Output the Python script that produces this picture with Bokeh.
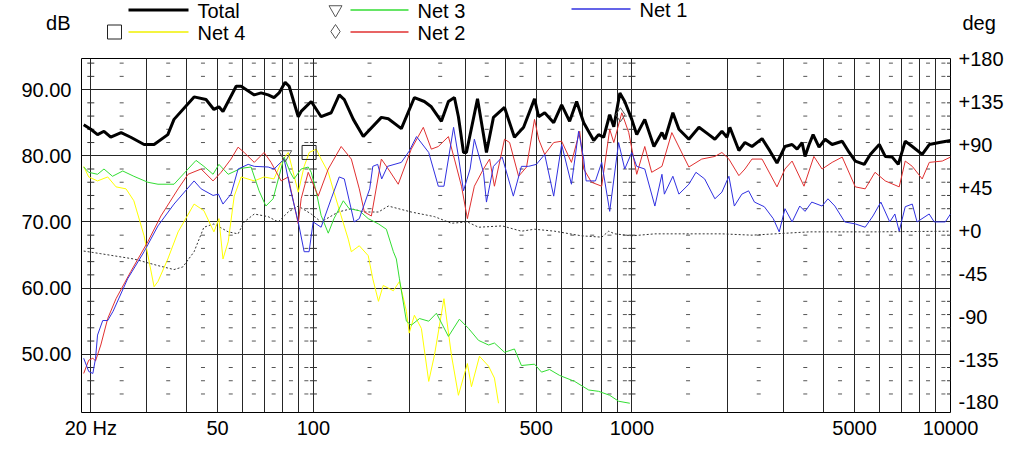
from bokeh.plotting import figure
from bokeh.layouts import column
from bokeh.models import Range1d, LinearAxis, FixedTicker
from bokeh.core.properties import value
from bokeh.embed import file_html
from bokeh.resources import INLINE

FONT = "Liberation Sans"

# Total (black, thick)
total_hz = [19.0, 20.0, 21.0, 22.0, 23.1, 24.9, 26.7, 29.4, 31.6, 34.9,
            36.5, 42.2, 46.0, 48.7, 50.5, 52.0, 57.2, 59.3, 65.2, 68.5,
            72.1, 75.2, 78.0, 81.5, 83.9, 89.6, 91.5, 98.4, 105.7, 113.7,
            120.5, 125.0, 133.4, 143.4, 148.6, 163.4, 171.8, 188.8, 207.5, 222.9,
            234.5, 252.2, 265.3, 277.1, 285.2, 295.9, 302.2, 327.4, 349.3, 367.4,
            398.0, 427.6, 456.9, 494.4, 509.4, 532.2, 567.9, 601.5, 637.2, 670.3,
            705.5, 758.5, 785.6, 814.8, 851.4, 877.0, 916.2, 949.0, 998.6, 1035,
            1097, 1172, 1242, 1269, 1344, 1404, 1509, 1623, 1743, 1821,
            1916, 1987, 2029, 2166, 2263, 2381, 2561, 2713, 2853, 3022,
            3182, 3299, 3420, 3494, 3598, 3704, 3866, 4040, 4250, 4571,
            4808, 5025, 5360, 5600, 5976, 6240, 6562, 6857, 7210, 7586,
            8150, 8578, 9226, 10000]
total_db = [84.7, 84.0, 83.2, 83.7, 82.8, 83.5, 82.8, 81.7, 81.7, 83.2,
            85.5, 88.9, 88.5, 87.0, 87.4, 86.7, 90.5, 90.5, 89.2, 89.5,
            89.2, 88.8, 89.5, 91.1, 90.5, 85.9, 86.7, 88.2, 85.9, 86.5,
            89.2, 88.5, 85.5, 82.9, 83.7, 85.8, 85.6, 84.1, 88.8, 88.2,
            87.4, 85.2, 88.2, 88.8, 85.9, 80.5, 80.5, 88.6, 80.5, 85.8,
            87.3, 82.8, 84.3, 88.6, 85.9, 86.5, 85.0, 87.7, 85.2, 88.2,
            85.0, 82.3, 83.2, 82.8, 86.2, 84.4, 89.5, 88.2, 85.5, 83.2,
            85.5, 81.4, 83.5, 82.5, 86.5, 84.0, 82.5, 84.3, 83.2, 82.5,
            83.7, 82.8, 84.3, 80.8, 82.0, 81.4, 82.6, 80.7, 78.9, 81.4,
            81.7, 81.0, 82.0, 79.9, 81.7, 83.2, 81.3, 82.5, 81.7, 82.2,
            80.5, 79.2, 78.7, 80.2, 81.7, 79.9, 79.8, 78.7, 82.2, 81.4,
            80.2, 81.7, 82.0, 82.3]

# Net 2 (red)
net2_hz = [19.0, 19.7, 20.3, 20.7, 21.5, 22.6, 24.0, 26.7, 30.2, 33.2,
           37.6, 40.4, 44.4, 48.4, 51.3, 55.1, 58.0, 60.6, 65.2, 70.0,
           73.6, 79.2, 83.3, 89.6, 91.5, 96.3, 103.5, 111.3, 122.2, 131.5,
           139.3, 144.5, 152.0, 163.4, 171.8, 184.6, 202.8, 221.3, 234.5, 246.6,
           265.3, 277.1, 291.6, 304.3, 320.0, 341.8, 357.3, 370.0, 398.0, 413.0,
           440.6, 466.7, 494.4, 509.4, 532.2, 567.9, 601.5, 645.6, 685.4, 705.5,
           746.5, 803.5, 851.4, 877.0, 929, 977, 1035, 1097, 1153, 1242,
           1334, 1509, 1656, 1821, 1916, 2015, 2166, 2263, 2381, 2561,
           2853, 3022, 3182, 3468, 3725, 3953, 4250, 4571, 5025, 5396,
           5795, 6240, 6901, 7210, 7586, 8150, 8578, 9422, 10000]
net2_db = [47.1, 49.1, 49.4, 49.0, 51.4, 55.4, 58.4, 62.5, 67.0, 70.9,
           75.0, 77.2, 78.0, 76.2, 77.5, 79.5, 81.3, 80.5, 79.0, 80.5,
           79.0, 76.2, 76.8, 69.7, 73.5, 77.5, 73.9, 78.0, 81.4, 79.5,
           75.0, 71.5, 70.9, 79.5, 78.0, 75.7, 81.0, 84.3, 81.0, 81.4,
           82.9, 79.5, 75.4, 70.5, 75.4, 78.0, 79.5, 75.4, 82.5, 82.0,
           76.9, 78.3, 85.5, 82.5, 80.2, 82.0, 82.2, 79.0, 83.7, 78.0,
           76.0, 75.4, 84.0, 82.0, 86.5, 83.5, 77.2, 81.4, 77.5, 78.4,
           83.5, 78.3, 79.5, 79.9, 80.5, 79.5, 77.0, 78.0, 79.5, 79.5,
           75.3, 78.0, 79.2, 75.4, 79.9, 78.0, 79.0, 79.8, 75.3, 75.0,
           77.5, 76.2, 75.3, 79.2, 78.4, 76.5, 79.0, 79.2, 79.8]

# Net 1 (blue)
net1_hz = [19.0, 19.7, 20.3, 20.7, 21.0, 21.8, 22.6, 23.5, 26.1, 29.4,
           32.5, 36.5, 42.2, 44.4, 48.4, 50.3, 52.0, 55.1, 58.0, 62.4,
           65.2, 72.1, 75.2, 80.9, 84.6, 89.6, 93.5, 96.9, 99.8, 105.7,
           113.7, 120.5, 125.0, 134.2, 139.3, 150.2, 153.6, 159.1, 163.8, 170.8,
           188.8, 199.8, 210.6, 230.1, 246.6, 256.9, 275.4, 285.2, 295.9, 310.3,
           320.0, 341.8, 349.3, 367.4, 391.4, 424.2, 449.8, 473.4, 501.0, 532.2,
           567.9, 601.5, 645.6, 680, 705.5, 718, 768, 803.5, 851.4, 908,
           949.0, 998.6, 1035, 1097, 1180, 1242, 1264, 1344, 1404, 1509,
           1588, 1691, 1821, 1916, 2015, 2096, 2213, 2323, 2424, 2603,
           2777, 2899, 3022, 3182, 3363, 3494, 3668, 3953, 4124, 4335,
           4655, 5025, 5396, 5709, 6044, 6446, 6688, 6901, 7210, 7586,
           7853, 8570, 8890, 9630, 10000]
net1_db = [49.4, 47.4, 47.1, 49.4, 52.9, 55.1, 55.1, 56.5, 61.4, 65.5,
           69.4, 72.7, 76.2, 75.0, 74.0, 74.2, 72.7, 74.2, 78.0, 78.7,
           78.4, 78.3, 78.0, 79.5, 75.0, 70.0, 65.5, 65.5, 70.0, 69.2,
           73.5, 76.8, 76.5, 70.0, 70.5, 75.0, 78.4, 78.7, 76.5, 78.4,
           79.0, 80.7, 82.9, 80.5, 75.4, 75.4, 84.3, 79.9, 74.7, 78.0,
           82.5, 77.5, 73.0, 78.4, 79.8, 73.9, 78.4, 78.4, 78.7, 80.2,
           73.9, 81.7, 75.7, 83.7, 79.5, 76.2, 76.2, 79.0, 71.6, 82.0,
           78.0, 80.5, 78.4, 78.0, 72.4, 77.2, 74.2, 76.9, 74.2, 75.7,
           77.5, 76.5, 73.5, 74.5, 76.9, 72.4, 74.2, 74.7, 73.0, 72.3,
           70.5, 68.5, 72.0, 70.0, 72.4, 71.6, 73.0, 72.4, 73.5, 72.4,
           70.0, 69.7, 69.2, 70.9, 73.0, 70.0, 71.2, 68.6, 72.3, 72.7,
           70.0, 71.2, 70.0, 70.0, 71.2]

# Net 3 (green)
net3_hz = [19.0, 19.7, 21.0, 22.0, 23.4, 25.2, 27.3, 30.2, 32.5, 36.5,
           40.4, 42.8, 45.3, 48.4, 50.5, 54.0, 59.3, 63.7, 67.5, 70.9,
           74.7, 78.0, 80.9, 84.6, 86.9, 91.5, 96.3, 98.4, 102.1, 105.7,
           111.3, 116.0, 124.1, 129.5, 139.3, 148.6, 160.0, 169.4, 178.2, 182.1,
           186.2, 195.8, 202.8, 215.3, 230.1, 243.3, 265.3, 287.2, 306.9, 329.8,
           354.7, 370.0, 398.0, 427.6, 449.8, 494.4, 520.2, 551.1, 593.0, 660.6,
           731.5, 785.6, 851.4, 908, 984.5]
net3_db = [78.3, 77.5, 77.2, 78.0, 76.9, 77.7, 76.9, 76.0, 75.7, 75.7,
           78.0, 79.3, 78.4, 77.2, 78.7, 77.2, 78.1, 78.3, 74.7, 72.4,
           73.5, 76.9, 79.8, 77.5, 76.5, 78.0, 78.3, 77.5, 74.5, 71.0,
           68.3, 70.5, 73.2, 72.0, 71.7, 70.5, 69.7, 68.9, 65.5, 64.4,
           61.4, 55.0, 54.4, 55.4, 55.0, 56.2, 52.7, 55.3, 53.9, 52.1,
           51.4, 51.7, 50.3, 50.8, 48.3, 48.5, 47.3, 47.7, 46.8, 45.9,
           44.6, 44.4, 43.8, 42.9, 42.6]

# Net 4 (yellow)
net4_hz = [19.0, 19.7, 21.0, 22.6, 24.0, 25.8, 27.3, 29.4, 31.6, 32.5,
           34.9, 37.6, 42.2, 45.3, 48.7, 50.5, 52.0, 54.0, 56.4, 59.3,
           65.2, 70.0, 75.2, 79.2, 83.3, 89.6, 93.5, 97.0, 102.1, 105.7,
           111.3, 116.0, 122.2, 128.6, 131.5, 139.3, 148.6, 153.6, 160.0, 165.6,
           178.2, 186.2, 195.8, 199.8, 207.5, 218.2, 230.1, 239.9, 256.9, 271.1,
           285.2, 304.3, 313.4, 332.1, 354.7, 370.0, 381.1]
net4_db = [78.4, 76.8, 76.2, 76.8, 75.3, 75.0, 73.2, 67.9, 60.2, 61.0,
           64.4, 68.5, 72.7, 71.7, 68.5, 70.5, 64.4, 67.0, 73.9, 76.8,
           76.2, 76.8, 76.5, 79.0, 80.5, 74.5, 78.4, 80.5, 81.0, 79.5,
           77.5, 74.5, 70.9, 67.4, 65.5, 66.4, 64.9, 61.4, 58.0, 60.4,
           59.6, 61.0, 56.5, 53.2, 55.9, 53.9, 45.9, 49.9, 58.4, 49.9,
           43.8, 48.6, 45.1, 49.7, 48.2, 46.4, 42.6]

# dotted curve (no legend entry)
dot_hz = [19.0, 21.5, 27.3, 32.5, 36.5, 38.9, 42.2, 45.3, 48.7, 54.0,
          58.0, 60.6, 65.2, 72.1, 77.5, 83.3, 89.6, 98.4, 105.7, 119.6,
          131.5, 144.5, 160.0, 171.8, 202.8, 239.9, 271.1, 304.3, 329.8, 391.4,
          449.8, 494.4, 571.6, 695, 803.5, 845, 883, 998.6, 1180, 1509,
          1916, 2381, 3598, 5795, 10000]
dot_db = [65.6, 65.2, 64.4, 63.4, 62.8, 63.2, 65.5, 69.2, 69.7, 68.5,
          68.2, 70.0, 71.2, 70.8, 70.0, 71.5, 72.4, 71.2, 70.0, 71.5,
          72.0, 71.5, 71.5, 72.4, 71.5, 70.8, 69.8, 70.0, 69.2, 69.4,
          68.6, 68.9, 68.6, 67.9, 67.7, 68.6, 68.2, 67.9, 68.2, 68.2,
          68.2, 68.0, 68.5, 68.5, 68.6]

# cursor markers on the curves
mark_hz = [81.5, 96.9, 920]
mark_db = [80.2, 80.5, 86.2]
mark_shape = ["inverted_triangle", "square", "diamond"]
mark_color = ["#555555", "#222222", "#555555"]

x_labels = {20: "20 Hz", 50: "50", 100: "100", 500: "500", 1000: "1000", 5000: "5000", 10000: "10000"}
db_ticks = [50, 60, 70, 80, 90]
deg_ticks = [-180, -135, -90, -45, 0, 45, 90, 135, 180]


def plain_axis(ax):
    ax.axis_line_color = None
    ax.major_tick_in = 0
    ax.major_tick_out = 0
    ax.minor_tick_in = 0
    ax.minor_tick_out = 0
    ax.major_label_text_font = FONT
    ax.major_label_text_font_size = "20px"
    ax.major_label_text_color = "black"


# ---- legend strip on top; its frame lines up with the chart frame (page x 81..950)
leg = figure(width=1016, height=48, x_range=Range1d(81, 950), y_range=Range1d(48, 0),
             output_backend="svg", toolbar_location=None,
             min_border_left=81, min_border_right=66, min_border_top=0, min_border_bottom=0,
             x_axis_location=None, y_axis_location=None)
leg.grid.visible = False
leg.outline_line_color = None

# unit captions "dB" / "deg" sit beside the strip, as one-tick axes
unit_left = LinearAxis(ticker=FixedTicker(ticks=[22]), major_label_overrides={22: "dB"},
                       major_label_standoff=11)
unit_right = LinearAxis(ticker=FixedTicker(ticks=[22]), major_label_overrides={22: "deg"},
                        major_label_standoff=12)
plain_axis(unit_left)
plain_axis(unit_right)
leg.add_layout(unit_left, "left")
leg.add_layout(unit_right, "right")

leg.line([128, 188], [9.5, 9.5], line_color="black", line_width=3)
leg.line([128, 188], [31.5, 31.5], line_color="#f0f000", line_width=1.5)
leg.line([350, 408], [9.5, 9.5], line_color="#33dd33", line_width=1.5)
leg.line([350, 408], [31.5, 31.5], line_color="#e03030", line_width=1.5)
leg.line([571, 630], [8.5, 8.5], line_color="#3030e0", line_width=1.5)
leg.scatter([335, 114, 335], [9, 31.5, 31], marker=mark_shape, size=[13, 14, 14],
            fill_color=None, line_color=mark_color)
leg.text(x=[197, 197, 417, 417, 639], y=[10, 32, 10, 32, 9],
         text=["Total", "Net 4", "Net 3", "Net 2", "Net 1"],
         text_font=value(FONT), text_font_size="20px", text_color="black",
         text_baseline="middle", text_align="left")

# ---- main chart
p = figure(width=1016, height=406, x_axis_type="log",
           x_range=Range1d(18.7, 10000), y_range=Range1d(41.2, 94.7),
           output_backend="svg", toolbar_location=None,
           min_border_left=81, min_border_right=66, min_border_top=10, min_border_bottom=42)
p.extra_y_ranges = {"deg": Range1d(-190.5, 181)}
p.add_layout(LinearAxis(y_range_name="deg"), "right")

p.outline_line_color = "black"
p.outline_line_width = 1

p.xaxis.ticker = FixedTicker(ticks=list(x_labels.keys()))
p.xaxis.major_label_overrides = x_labels
p.xaxis.major_label_standoff = 4
p.yaxis[0].ticker = FixedTicker(ticks=db_ticks)
p.yaxis[0].major_label_overrides = {t: "%.2f" % t for t in db_ticks}
p.yaxis[0].major_label_standoff = 10
p.yaxis[1].ticker = FixedTicker(ticks=deg_ticks)
p.yaxis[1].major_label_overrides = {t: ("+%d" % t if t >= 0 else "%d" % t) for t in deg_ticks}
p.yaxis[1].major_label_standoff = 8
for ax in p.xaxis + p.yaxis:
    plain_axis(ax)

grid_hz = [d * k for d in (10, 100, 1000) for k in range(1, 10) if d * k >= 20] + [10000]
p.xgrid.ticker = FixedTicker(ticks=grid_hz)
p.ygrid.ticker = FixedTicker(ticks=db_ticks)
p.grid.grid_line_color = "#262626"
p.grid.grid_line_width = 1
p.grid.grid_line_alpha = 1

# small dashes of the 2 dB sub grid
dash_db = [v for v in range(44, 96, 2) if v % 10]
mid_hz = [d * (k + 0.5) for d in (10, 100, 1000) for k in range(1, 10) if d * (k + 0.5) > 19]
p.scatter([h for h in mid_hz for v in dash_db], [v for h in mid_hz for v in dash_db],
          marker="dash", size=4, line_color="#555555", line_width=1)
cross_hz = [20, 100, 1000, 10000]
p.scatter([h for h in cross_hz for v in dash_db], [v for h in cross_hz for v in dash_db],
          marker="dash", size=7, line_color="#333333", line_width=1)

p.line(dot_hz, dot_db, line_color="#333333", line_width=1, line_dash="2 2")
p.line(net4_hz, net4_db, line_color="#ffff00", line_width=1)
p.line(net3_hz, net3_db, line_color="#33dd33", line_width=1)
p.line(net2_hz, net2_db, line_color="#e03030", line_width=1)
p.line(net1_hz, net1_db, line_color="#3030e0", line_width=1)
p.line(total_hz, total_db, line_color="black", line_width=3)
p.scatter(mark_hz, mark_db, marker=mark_shape, size=[13, 14, 14],
          fill_color=None, line_color=mark_color)

layout = column(leg, p)
open("out.html", "w").write(file_html(layout, INLINE))
